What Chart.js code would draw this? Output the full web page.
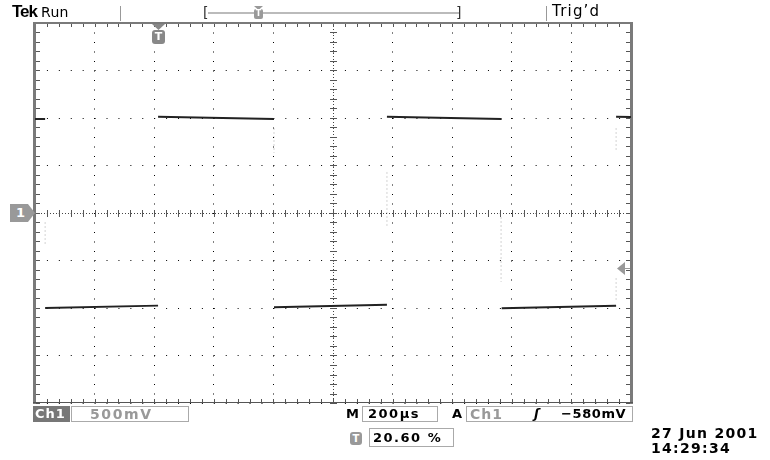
<!DOCTYPE html>
<html>
<head>
<meta charset="utf-8">
<script src="https://cdn.jsdelivr.net/npm/chart.js@4/dist/chart.umd.min.js"></script>
<style>
  body { margin: 0; background: #fff; width: 770px; height: 460px; overflow: hidden; position: relative; font-family: "DejaVu Sans", sans-serif; }
  #scope { position: absolute; left: 0; top: 0; }
  .t { position: absolute; white-space: nowrap; line-height: 1; font-size: 13px; font-weight: bold; color: #000; letter-spacing: 1.5px; }
  .box { position: absolute; border: 1px solid #aaa; box-sizing: border-box; }
  .gray { color: #999; }
  .vline { position: absolute; width: 1px; background: #999; }
</style>
</head>
<body>
<canvas id="scope" width="770" height="460"></canvas>

<!-- header -->
<div class="t" style="left:12px;top:3px;font-family:'Liberation Sans';font-size:17px;letter-spacing:-1px;">Tek</div>
<div class="t" style="left:41px;top:5px;font-weight:normal;font-size:14px;letter-spacing:0.3px;">Run</div>
<div class="vline" style="left:120px;top:6px;height:15px;"></div>
<div class="t" style="left:203px;top:5px;font-weight:normal;font-size:14px;color:#333;">[</div>
<div style="position:absolute;left:208px;top:12px;width:251px;height:2px;background:#bbb;"></div>
<div class="t" style="left:456px;top:5px;font-weight:normal;font-size:14px;color:#333;">]</div>
<div style="position:absolute;left:254px;top:6px;width:9px;height:4px;background:#999;clip-path:polygon(0 0,100% 0,50% 100%);"></div>
<div style="position:absolute;left:254px;top:9px;width:9px;height:10px;background:#999;border-radius:2px;color:#fff;font-size:8px;font-weight:bold;text-align:center;line-height:10px;">T</div>
<div class="vline" style="left:546px;top:6px;height:15px;"></div>
<div class="t" style="left:552px;top:4px;font-weight:normal;font-size:15px;letter-spacing:1.2px;">Trig’d</div>

<!-- markers on the graticule -->
<div style="position:absolute;left:152px;top:24px;width:13px;height:6px;background:#888;clip-path:polygon(0 0,100% 0,50% 100%);"></div>
<div style="position:absolute;left:152px;top:30px;width:13px;height:14px;background:#888;border-radius:3px;color:#fff;font-size:11px;font-weight:bold;text-align:center;line-height:14px;">T</div>
<div style="position:absolute;left:10px;top:204px;width:25px;height:18px;background:#999;clip-path:polygon(0 0,72% 0,100% 50%,72% 100%,0 100%);color:#fff;font-size:13px;font-weight:bold;line-height:18px;text-indent:6px;">1</div>
<div style="position:absolute;left:617px;top:262px;width:8px;height:13px;background:#999;clip-path:polygon(0 50%,100% 0,100% 100%);"></div>
<div style="position:absolute;left:624px;top:268px;width:6px;height:1px;background:#999;"></div>

<!-- footer -->
<div style="position:absolute;left:33px;top:406px;width:37px;height:16px;background:#777;"></div>
<div class="t" style="left:35px;top:407px;color:#fff;font-size:13px;letter-spacing:1px;">Ch1</div>
<div class="box" style="left:71px;top:406px;width:118px;height:16px;"></div>
<div class="t gray" style="left:90px;top:407px;font-size:14px;letter-spacing:1.6px;">500mV</div>
<div class="t" style="left:346px;top:407px;letter-spacing:0;">M</div>
<div class="box" style="left:362px;top:406px;width:76px;height:16px;"></div>
<div class="t" style="left:368px;top:407px;">200µs</div>
<div class="t" style="left:452px;top:407px;letter-spacing:0;">A</div>
<div class="box" style="left:466px;top:406px;width:167px;height:16px;"></div>
<div class="t gray" style="left:470px;top:407px;font-size:14px;letter-spacing:1px;">Ch1</div>
<div class="t" style="left:534px;top:407px;font-style:italic;letter-spacing:0;">ʃ</div>
<div class="t" style="left:561px;top:407px;letter-spacing:0.6px;">−580mV</div>

<div style="position:absolute;left:350px;top:432px;width:12px;height:13px;background:#999;border-radius:3px;color:#fff;font-size:10px;font-weight:bold;text-align:center;line-height:13px;">T</div>
<div class="box" style="left:369px;top:428px;width:85px;height:19px;"></div>
<div class="t" style="left:373px;top:431px;">20.60 %</div>

<div class="t" style="left:651px;top:426px;font-size:14px;letter-spacing:1.3px;">27 Jun 2001</div>
<div class="t" style="left:651px;top:441px;font-size:14px;letter-spacing:1.3px;">14:29:34</div>

<script>
// horizontal: 10 div x 200 us, vertical: 8 div x 500 mV (ground at centre)
const timePerDiv = 200;
const voltPerDiv = 0.5;
const divsX = 10;
const divsY = 8;

// trace segments (us, V)
const segStart = [0, 34, 413, 802, 1181, 1566, 1950];
const segEnd = [34, 413, 802, 1181, 1566, 1950, 2000];
const segFrom = [0.99, -1.0, 1.014, -0.993, 1.014, -1.003, 1.014];
const segTo = [0.99, -0.975, 0.989, -0.965, 0.989, -0.976, 1.01];

// faint bits of the switching edges
const edgeTime = [34, 802, 1181, 1564, 1950, 1950];
const edgeTop = [-0.095, 0.895, 0.432, -0.042, 0.895, -0.684];
const edgeBottom = [-0.337, 0.632, -0.147, -0.726, 0.663, -0.937];

let traceData = [];
for (let i = 0; i < segStart.length; i++) {
  traceData.push({ x: segStart[i], y: segFrom[i] });
  traceData.push({ x: segEnd[i], y: segTo[i] });
  traceData.push({ x: segEnd[i], y: null });
}

let edgeData = [];
for (let i = 0; i < edgeTime.length; i++) {
  edgeData.push({ x: edgeTime[i], y: edgeTop[i] });
  edgeData.push({ x: edgeTime[i], y: edgeBottom[i] });
  edgeData.push({ x: edgeTime[i], y: null });
}

const xMax = timePerDiv * divsX;
const yMax = (voltPerDiv * divsY) / 2;

// frame, minor ticks and centre cross of the graticule
const graticule = {
  id: "graticule",
  beforeDatasetsDraw(chart) {
    const ctx = chart.ctx;
    const x = chart.scales.x;
    const y = chart.scales.y;
    const a = chart.chartArea;
    const cx = x.getPixelForValue(xMax / 2);
    const cy = y.getPixelForValue(0);
    ctx.save();

    // dense centre lines
    ctx.strokeStyle = "#444";
    ctx.lineWidth = 1;
    ctx.setLineDash([1, 2]);
    ctx.beginPath();
    ctx.moveTo(Math.round(cx) + 0.5, a.top);
    ctx.lineTo(Math.round(cx) + 0.5, a.bottom);
    ctx.moveTo(a.left, Math.round(cy) + 0.5);
    ctx.lineTo(a.right, Math.round(cy) + 0.5);
    ctx.stroke();
    ctx.setLineDash([]);

    ctx.strokeStyle = "#555";
    ctx.beginPath();
    for (let v = -yMax; v <= yMax + 1e-9; v += voltPerDiv / 5) {
      const py = Math.round(y.getPixelForValue(v)) + 0.5;
      ctx.moveTo(cx - 3, py);
      ctx.lineTo(cx + 4, py);
      ctx.moveTo(a.left, py);
      ctx.lineTo(a.left + 5, py);
      ctx.moveTo(a.right - 5, py);
      ctx.lineTo(a.right, py);
    }
    for (let t = 0; t <= xMax + 1e-9; t += timePerDiv / 5) {
      const px = Math.round(x.getPixelForValue(t)) + 0.5;
      ctx.moveTo(px, cy - 3);
      ctx.lineTo(px, cy + 4);
      ctx.moveTo(px, a.top);
      ctx.lineTo(px, a.top + 4);
      ctx.moveTo(px, a.bottom - 4);
      ctx.lineTo(px, a.bottom);
    }
    ctx.stroke();

    // frame
    ctx.fillStyle = "#7a7a7a";
    ctx.fillRect(a.left - 2, a.top - 1, 3, a.bottom - a.top + 2);
    ctx.fillRect(a.right - 1, a.top - 1, 3, a.bottom - a.top + 2);
    ctx.fillRect(a.left - 2, a.top - 1, a.right - a.left + 4, 2);
    ctx.fillStyle = "#555";
    ctx.fillRect(a.left - 2, a.bottom - 1, a.right - a.left + 4, 1);
    ctx.restore();
  },
};

new Chart(document.getElementById("scope"), {
  type: "line",
  data: {
    datasets: [
      {
        label: "edges",
        data: edgeData,
        borderColor: "rgba(0,0,0,0.18)",
        borderWidth: 1,
        borderDash: [2, 2],
        pointRadius: 0,
        spanGaps: false,
      },
      {
        label: "Ch1",
        data: traceData,
        borderColor: "#222",
        borderWidth: 2,
        pointRadius: 0,
        spanGaps: false,
      },
    ],
  },
  options: {
    responsive: false,
    animation: false,
    devicePixelRatio: 1,
    layout: { padding: { left: 35, top: 23, right: 139, bottom: 57 } },
    plugins: { legend: { display: false }, tooltip: { enabled: false } },
    scales: {
      x: {
        type: "linear",
        min: 0,
        max: xMax,
        ticks: { display: false, stepSize: timePerDiv },
        grid: { color: "#000", lineWidth: 1, drawTicks: false },
        border: { display: false, dash: [1, 8.5] },
      },
      y: {
        type: "linear",
        min: -yMax,
        max: yMax,
        ticks: { display: false, stepSize: voltPerDiv },
        grid: { color: "#000", lineWidth: 1, drawTicks: false },
        border: { display: false, dash: [1, 10.92] },
      },
    },
  },
  plugins: [graticule],
});
</script>
</body>
</html>
